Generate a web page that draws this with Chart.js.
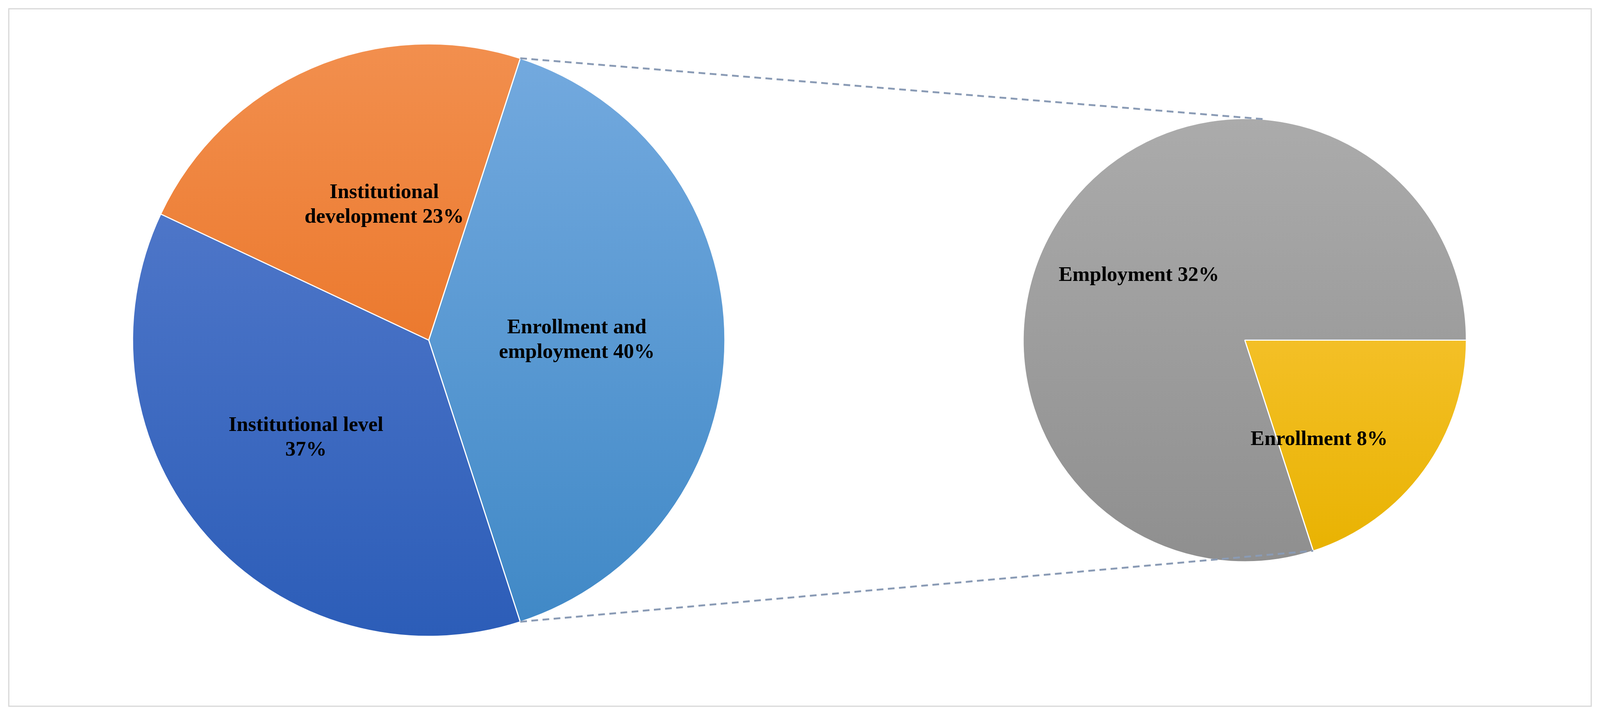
<!DOCTYPE html>
<html><head><meta charset="utf-8">
<script src="https://cdn.jsdelivr.net/npm/chart.js@4"></script>
<style>
html,body{margin:0;padding:0;background:#fff;width:100vw;height:100vh;overflow:hidden}
#frame{position:absolute;left:0.51vw;top:0.51vw;width:98.97vw;height:calc(100vh - 1.03vw);border:0.09vw solid #d9d9d9;box-sizing:border-box}
.box{position:absolute}
#overlay{position:absolute;left:0;top:0;pointer-events:none}
</style></head><body>
<div id="frame"></div>
<div class="box" style="left:7.69vw;top:2.14vw;width:38.21vw;height:38.21vw"><canvas id="c1"></canvas></div>
<div class="box" style="left:63.35vw;top:6.80vw;width:28.89vw;height:28.89vw"><canvas id="c2"></canvas></div>
<canvas id="overlay"></canvas>
<script>
const mainLabels = ["Enrollment and\nemployment 40%", "Institutional level\n37%", "Institutional\ndevelopment 23%"];
const mainValues = [40, 37, 23];
const mainColors = [["#74aadf","#3f88c6"],["#5b80cf","#2c5db8"],["#f28f4e","#e5640f"]];
const subLabels = ["Enrollment 8%", "Employment 32%"];
const subValues = [8, 32];
const subColors = [["#ffcd4d","#e8b200"],["#ababab","#8f8f8f"]];

const S = window.innerWidth/4292;

function grad(colors){
  return ctx => {
    const ch = ctx.chart, a = ch.chartArea;
    if(!a) return colors[ctx.dataIndex][0];
    const g = ch.ctx.createLinearGradient(0,a.top,0,a.bottom);
    g.addColorStop(0,colors[ctx.dataIndex][0]); g.addColorStop(1,colors[ctx.dataIndex][1]);
    return g;
  };
}
const labelPlugin = {
  id:'lbl',
  afterDatasetsDraw(chart, args, opts){
    const c = chart.ctx, meta = chart.getDatasetMeta(0);
    c.save();
    c.font = 'bold ' + Math.round(56*S) + 'px "Liberation Serif"';
    c.fillStyle = '#000'; c.textAlign='center'; c.textBaseline='middle';
    meta.data.forEach((arc,i)=>{
      const p = arc.getProps(['x','y','startAngle','endAngle','outerRadius'],true);
      const mid = (p.startAngle+p.endAngle)/2 + (opts.shift?opts.shift[i]:0);
      const r = p.outerRadius*opts.frac[i];
      const x = p.x + Math.cos(mid)*r, y = p.y + Math.sin(mid)*r;
      const lines = chart.data.labels[i].split('\n');
      lines.forEach((l,k)=>c.fillText(l, x, y + (k-(lines.length-1)/2)*66*S));
    });
    c.restore();
  }
};
function mk(id, labels, values, colors, rot, frac, shift){
  return new Chart(document.getElementById(id), {
    type:'pie',
    data:{labels, datasets:[{data:values, backgroundColor:grad(colors), borderWidth:3*S, borderColor:'#ffffff'}]},
    options:{responsive:true, maintainAspectRatio:false, animation:false, rotation:rot,
      layout:{padding:24*S},
      plugins:{legend:{display:false}, tooltip:{enabled:false}, lbl:{frac, shift}}},
    plugins:[labelPlugin]
  });
}
const ch1 = mk('c1', mainLabels, mainValues, mainColors, 18, [0.5,0.53,0.48], [0,0.05,0.09]);
const ch2 = mk('c2', subLabels, subValues, subColors, 90, [0.56,0.56], [0.3,-0.08]);

function pt(chart, ang){
  const a = chart.getDatasetMeta(0).data[0];
  const cv = chart.canvas.getBoundingClientRect();
  const rad = (ang-90)*Math.PI/180;
  return [cv.left + a.x + Math.cos(rad)*a.outerRadius, cv.top + a.y + Math.sin(rad)*a.outerRadius];
}
setTimeout(()=>{
  const ov = document.getElementById('overlay');
  ov.width = window.innerWidth; ov.height = window.innerHeight;
  const o = ov.getContext('2d');
  o.strokeStyle = '#8a9bb5'; o.lineWidth = 5*S; o.setLineDash([18*S,12*S]);
  const endMain = 18 + 360*mainValues[0]/100;
  const endSub = 90 + 360*subValues[0]/(subValues[0]+subValues[1]);
  const lines = [[pt(ch1,18), pt(ch2,5)],[pt(ch1,endMain), pt(ch2,endSub)]];
  lines.forEach(([a,b])=>{o.beginPath();o.moveTo(a[0],a[1]);o.lineTo(b[0],b[1]);o.stroke();});
},100);
</script>
</body></html>
